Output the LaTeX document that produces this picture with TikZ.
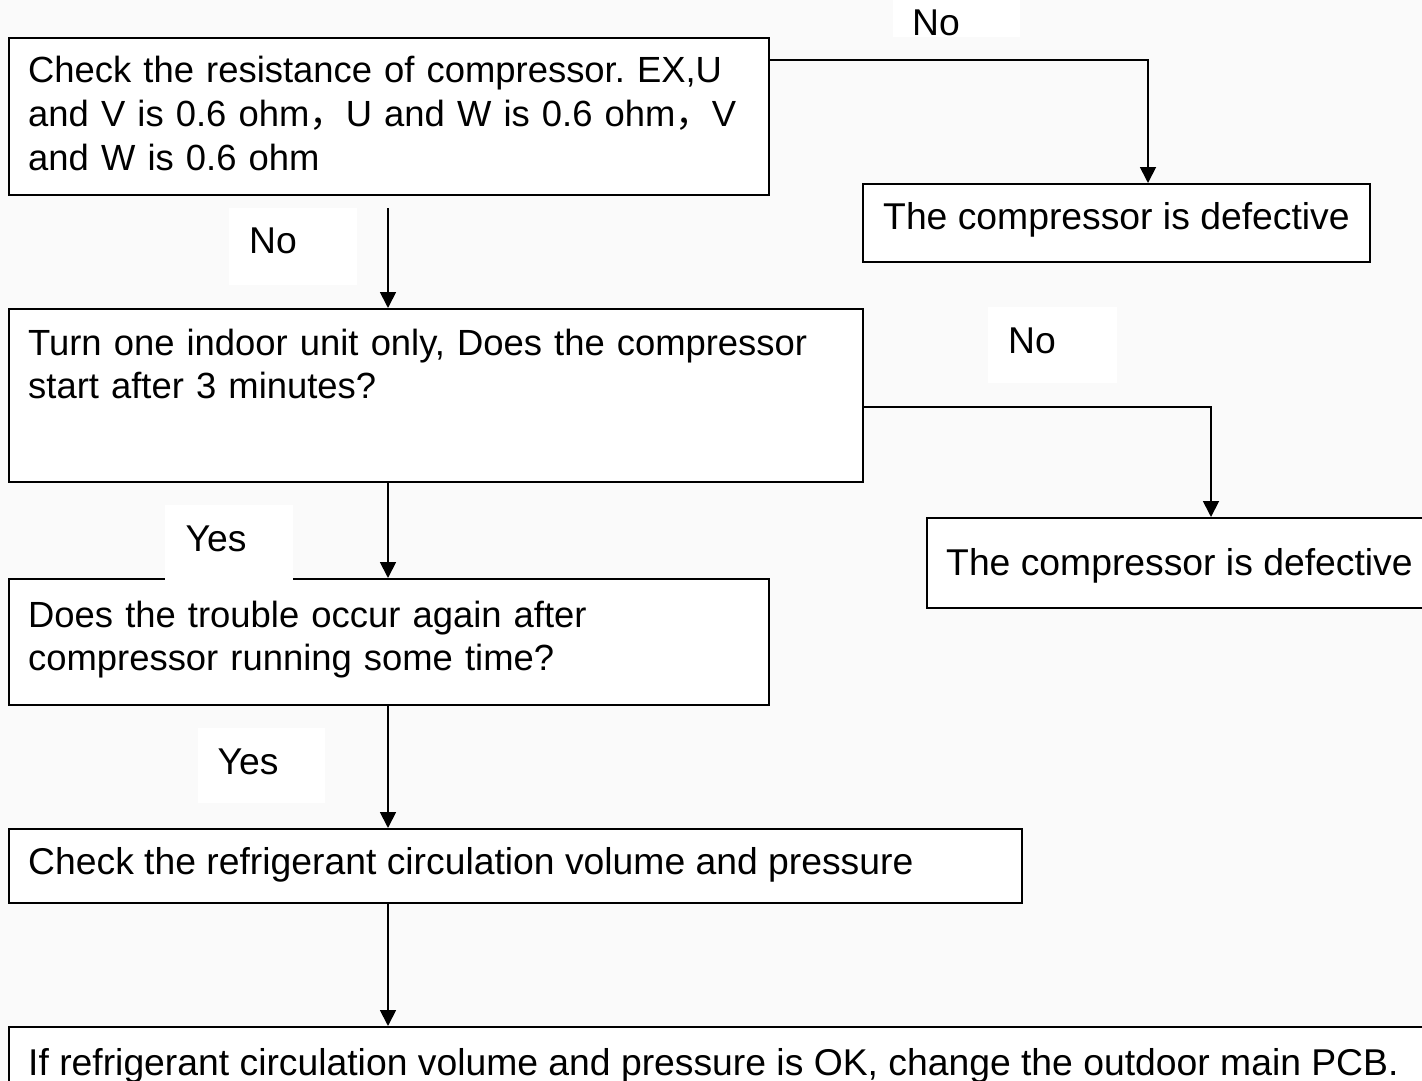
\documentclass[tikz,border=0pt]{standalone}
\usepackage{fontspec}
\setmainfont{Liberation Sans}
\newfontfamily\cjk{Noto Sans CJK SC}
\usetikzlibrary{arrows.meta}
\frenchspacing

\definecolor{paper}{RGB}{250,250,250}

\tikzset{
  stepbox/.style={draw=black, fill=white, line width=1.8pt, inner sep=0pt, anchor=north west},
  txt/.style={inner sep=0pt, anchor=base west, align=left,
              font=\fontsize{37.3pt}{44pt}\selectfont},
  multi/.style={txt, font=\fontsize{36.4pt}{43.6pt}\selectfont},
  flow/.style={draw=black, line width=1.8pt, -{Triangle[length=16pt,width=16pt]}},
  patch/.style={fill=white}
}

\begin{document}
\begin{tikzpicture}[x=1pt,y=-1pt]
  % page and background
  \useasboundingbox (0,0) rectangle (1422,1081);
  \fill[paper] (0,0) rectangle (1422,1081);

  % white patches behind the branch labels
  \fill[patch] (893,0) rectangle (1020,37);
  \fill[patch] (229,208) rectangle (357,285);
  \fill[patch] (988,307) rectangle (1117,383);
  \fill[patch] (198,728) rectangle (325,803);

  % process boxes
  \node[stepbox, minimum width=760pt, minimum height=157pt] (b1) at (8,37) {};
  \node[stepbox, minimum width=507pt, minimum height=78pt]  (b2) at (862,183) {};
  \node[stepbox, minimum width=854pt, minimum height=173pt] (b3) at (8,308) {};
  \node[stepbox, minimum width=520pt, minimum height=90pt]  (b4) at (926,517) {};
  \node[stepbox, minimum width=760pt, minimum height=126pt] (b5) at (8,578) {};
  \node[stepbox, minimum width=1013pt, minimum height=74pt] (b6) at (8,828) {};
  \node[stepbox, minimum width=1440pt, minimum height=80pt] (b7) at (8,1026) {};

  % label patch that covers the top edge of the fifth box
  \fill[patch] (165,505) rectangle (293,580);

  % connector end points
  \coordinate (c1) at (1148,60);
  \coordinate (c2) at (1211,407);
  \coordinate (s1) at (388,208);

  % connectors
  \draw[flow] (b1.east |- c1) -- (c1) -- (c1 |- b2.north);
  \draw[flow] (b3.east |- c2) -- (c2) -- (c2 |- b4.north);
  \draw[flow] (s1) -- (s1 |- b3.north);
  \draw[flow] (s1 |- b3.south) -- (s1 |- b5.north);
  \draw[flow] (s1 |- b5.south) -- (s1 |- b6.north);
  \draw[flow] (s1 |- b6.south) -- (s1 |- b7.north);

  % box texts
  \node[multi, text width=745pt] (t1) at (28,83)
    {Check the resistance of compressor. EX,U\\
     and V is 0.6 ohm{\cjk ，}U and W is 0.6 ohm{\cjk ，}V\\
     and W is 0.6 ohm};
  \node[txt] (t2) at (883,229) {The compressor is defective};
  \node[multi, text width=840pt] (t3) at (28,355)
    {Turn one indoor unit only, Does the compressor\\
     start after 3 minutes?};
  \node[txt] (t4) at (946,575) {The compressor is defective};
  \node[multi, text width=740pt] (t5) at (28,627)
    {Does the trouble occur again after\\
     compressor running some time?};
  \node[txt] (t6) at (28,874) {Check the refrigerant circulation volume and pressure};
  \node[txt] (t7) at (28,1075)
    {If refrigerant circulation volume and pressure is OK, change the outdoor main PCB.};

  % branch labels
  \node[txt, anchor=base] (l1) at (936,36) {No};
  \node[txt, anchor=base] (l2) at (273,253) {No};
  \node[txt, anchor=base] (l3) at (1032,353) {No};
  \node[txt, anchor=base] (l4) at (216,551) {Yes};
  \node[txt, anchor=base] (l5) at (248,774) {Yes};
\end{tikzpicture}
\end{document}
